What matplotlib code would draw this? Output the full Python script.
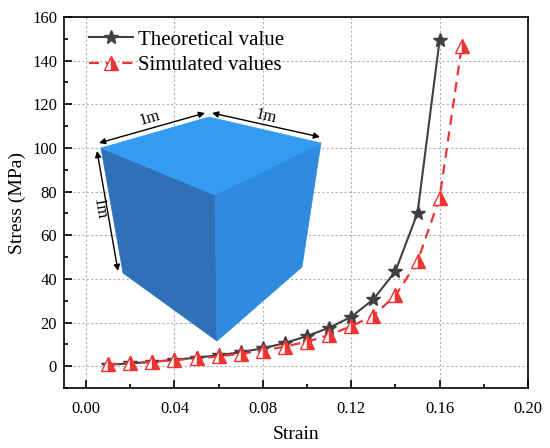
import matplotlib
matplotlib.use("Agg")
import matplotlib.pyplot as plt
from matplotlib.patches import Polygon
from matplotlib.ticker import MultipleLocator

# strain / stress values
strain_theory = [0.01, 0.02, 0.03, 0.04, 0.05, 0.06, 0.07, 0.08,
                 0.09, 0.10, 0.11, 0.12, 0.13, 0.14, 0.15, 0.16]
stress_theory = [0.6, 1.3, 2.0, 2.9, 3.9, 5.0, 6.4, 8.2,
                 10.6, 13.8, 17.6, 22.6, 30.6, 43.5, 70.2, 149.5]

strain_sim = [0.01, 0.02, 0.03, 0.04, 0.05, 0.06, 0.07, 0.08, 0.09,
              0.10, 0.11, 0.12, 0.13, 0.14, 0.15, 0.16, 0.17]
stress_sim = [0.8, 1.4, 2.0, 2.8, 3.6, 4.5, 5.7, 7.1, 9.0,
              11.2, 14.3, 18.3, 23.2, 32.4, 48.0, 77.2, 146.5]

plt.rcParams["font.family"] = ["Liberation Serif", "DejaVu Serif"]

W, H = 550, 448
fig = plt.figure(figsize=(W / 100, H / 100), dpi=100)
ax = fig.add_axes([64 / W, 1 - 388 / H, 464 / W, 371 / H])


def px(x, y):
    # pixel position -> figure fraction
    return (x / W, 1 - y / H)


ax.plot(strain_theory, stress_theory, color="#404040", lw=1.5, marker="*",
        markersize=10, label="Theoretical value", zorder=4)
ax.plot(strain_sim, stress_sim, color="#f03434", lw=1.6, ls=(0, (4.5, 3)),
        marker="^", markersize=10, fillstyle="right", markerfacecolor="#f03434",
        markerfacecoloralt="white", markeredgecolor="#f03434", markeredgewidth=1,
        label="Simulated values", zorder=5)

ax.set_xlim(-0.01, 0.20)
ax.set_ylim(-10, 160)
ax.xaxis.set_major_locator(MultipleLocator(0.04))
ax.xaxis.set_minor_locator(MultipleLocator(0.02))
ax.yaxis.set_major_locator(MultipleLocator(20))
ax.yaxis.set_minor_locator(MultipleLocator(10))
ax.set_xticks([0.0, 0.04, 0.08, 0.12, 0.16, 0.20])
ax.set_xticklabels(["0.00", "0.04", "0.08", "0.12", "0.16", "0.20"])
ax.tick_params(which="both", direction="in", labelsize=12, width=1.2)
ax.tick_params(axis="x", pad=9)
ax.tick_params(axis="y", pad=5)
ax.tick_params(which="major", length=5.5)
ax.tick_params(which="minor", length=3)
for s in ax.spines.values():
    s.set_linewidth(1.2)
ax.grid(True, which="major", color="#b0b0b0", ls=(0, (2, 2)), lw=0.8)
ax.set_axisbelow(True)

ax.set_xlabel("Strain", fontsize=14, labelpad=7)
ax.set_ylabel("Stress (MPa)", fontsize=14, labelpad=4)

leg = ax.legend(loc="upper left", bbox_to_anchor=(25 / 464, 1 - 13 / 371),
                frameon=False, fontsize=15, borderpad=0, borderaxespad=0,
                handlelength=2.1, handletextpad=0.25, labelspacing=0.3)

# cube inset
left_face = [px(101, 148), px(215, 195), px(217, 341), px(123, 273)]
right_face = [px(215, 195), px(321, 143), px(302, 267), px(217, 341)]
top_face = [px(101, 148), px(209, 117), px(321, 143), px(215, 195)]
for pts, col in [(left_face, "#2f70b9"), (right_face, "#2f8be0"),
                 (top_face, "#339cf2")]:
    ax.add_patch(Polygon(pts, closed=True, facecolor=col, edgecolor=col,
                         lw=0.5, transform=fig.transFigure, zorder=2))

arr = dict(arrowstyle="<|-|>", color="black", lw=1.0,
           mutation_scale=9, shrinkA=0, shrinkB=0)
for a, b in [((99, 143), (205, 113)), ((212, 113), (320, 137)),
             ((97, 151), (118, 271))]:
    ax.annotate("", xy=px(*b), xytext=px(*a), xycoords="figure fraction",
                textcoords="figure fraction", arrowprops=arr, zorder=3)

ax.text(*px(150, 118), "1m", transform=fig.transFigure, fontsize=12,
        rotation=16, ha="center", va="center", zorder=3)
ax.text(*px(266, 117), "1m", transform=fig.transFigure, fontsize=12,
        rotation=-13, ha="center", va="center", zorder=3)
ax.text(*px(99, 209), "1m", transform=fig.transFigure, fontsize=12,
        rotation=-80, ha="center", va="center", zorder=3)

fig.savefig("out.png", dpi=100)
